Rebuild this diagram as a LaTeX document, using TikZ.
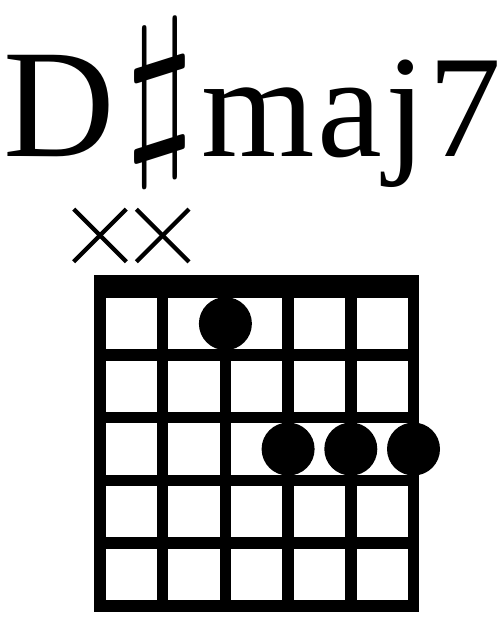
\documentclass[tikz,border=0pt]{standalone}
\usepackage{fontspec}
\setmainfont{Liberation Serif}
\usepackage{graphicx}
\usetikzlibrary{positioning}
\tikzset{
  every picture/.style={line width=0.23cm},
  chordname/.style={inner sep=0pt, anchor=base west, font=\fontsize{#1}{#1}\selectfont},
  chordname/.default=88,
  fretline/.style={line width=0.23cm, line cap=rect},
  finger/.style={circle, fill=black, minimum size=1.06cm, inner sep=0pt},
  mute/.style={line width=0.085cm},
}

\begin{document}
\begin{tikzpicture}
  \useasboundingbox (0,0) rectangle (10,12.5);
  % chord name
  \node[chordname] (root) at (-0.05,9.36) {D};
  \node[inner sep=0pt] (sharp) at (3.206,10.44) {\resizebox*{1.42cm}{3.32cm}{$\sharp$}};
  \node[chordname=83] (quality) at (3.92,9.36) {\addfontfeature{LetterSpace=1.8}maj7};
  % fretboard: strings on x = 0..5, frets on y = 0..5 (nut at top)
  \begin{scope}[shift={(2,0.384)}, x=1.254cm, y=1.254cm]
    \foreach \s in {0,...,5}
      \draw[fretline] (\s,0) -- (\s,5);
    \foreach \f in {0,...,5}
      \draw[fretline] (0,\f) -- (5,\f);
    \fill (-0.092,5) rectangle (5.092,5.276);
    % muted strings
    \foreach \s in {0,1} {
      \draw[mute] (\s-0.42,5.486) -- (\s+0.42,6.326);
      \draw[mute] (\s-0.42,6.326) -- (\s+0.42,5.486);
    }
    % fingers
    \node[finger] (f1) at (2,4.5) {};
    \node[finger] (f2) at (3,2.5) {};
    \node[finger] (f3) at (4,2.5) {};
    \node[finger] (f4) at (5,2.5) {};
  \end{scope}
\end{tikzpicture}
\end{document}
